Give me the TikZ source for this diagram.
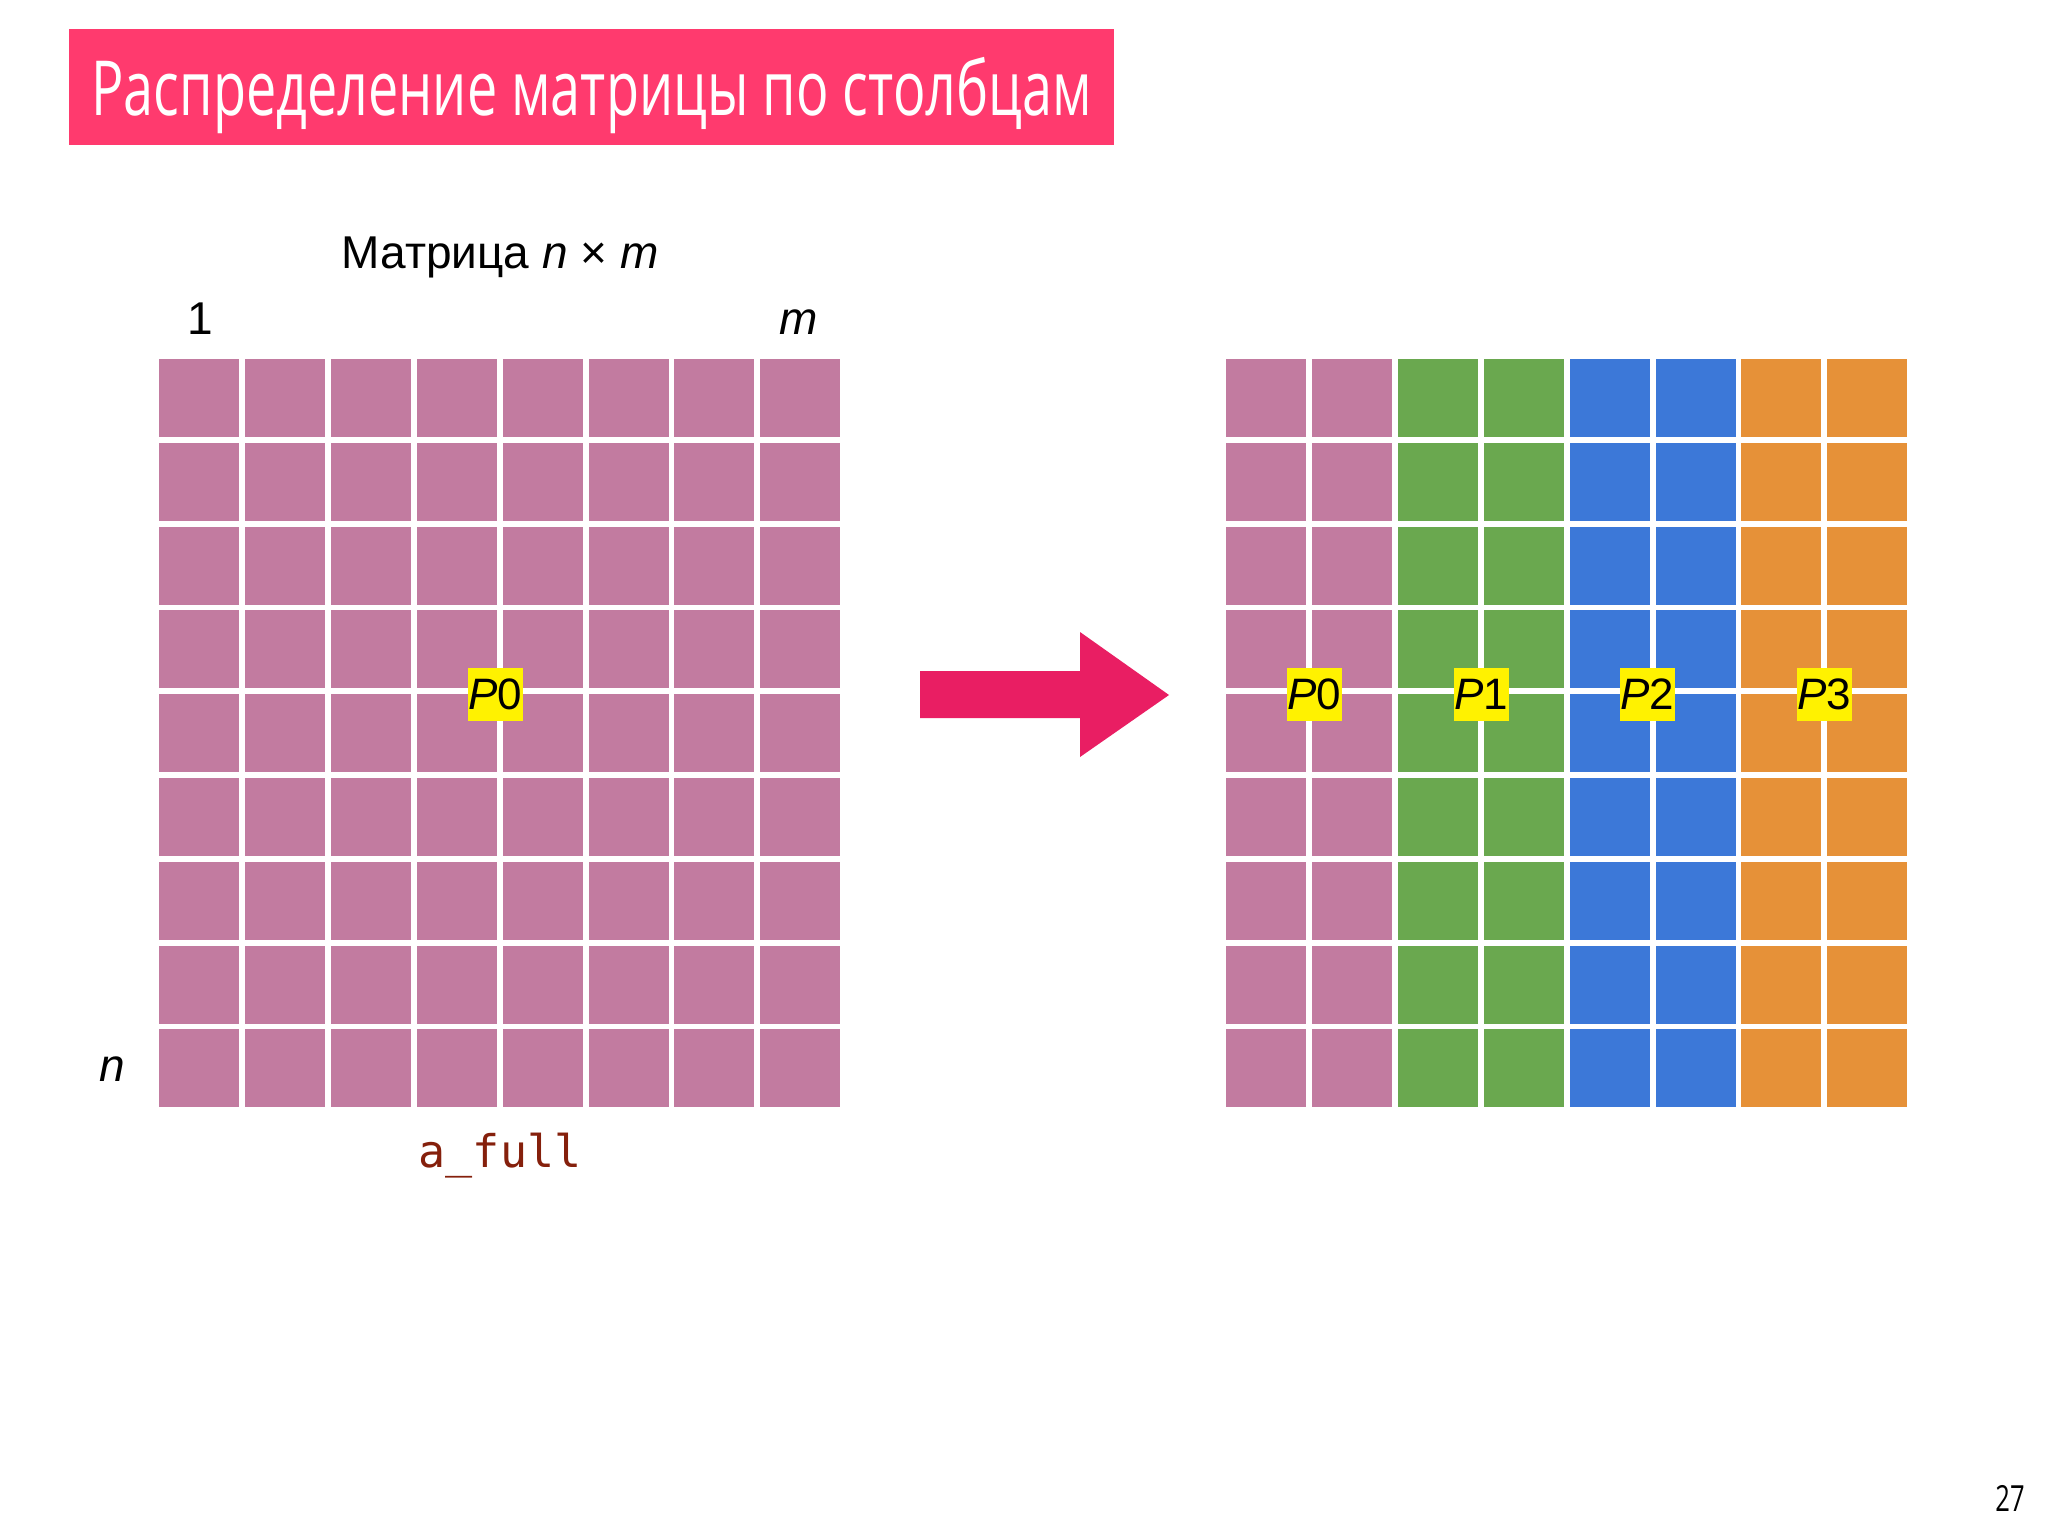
\documentclass[tikz,border=0pt]{standalone}
\usepackage{fontspec}
\setmainfont{Liberation Sans}
\setmonofont{DejaVu Sans Mono}
\newfontfamily\titlefont[FakeStretch=0.71]{Open Sans}

\definecolor{procA}{HTML}{C27BA0}
\definecolor{procB}{HTML}{6AA84F}
\definecolor{procC}{HTML}{3C78D8}
\definecolor{procD}{HTML}{E69138}
\definecolor{slidepink}{HTML}{FF3A6E}
\definecolor{arrowpink}{HTML}{E91E63}
\definecolor{codered}{HTML}{85200C}

\tikzset{
	plabel/.style={fill=yellow, inner sep=0pt, minimum width=27.5pt, minimum height=26.5pt,
		font=\fontsize{22}{22}\selectfont},
	axislabel/.style={anchor=base, inner sep=0pt, font=\fontsize{23}{27}\selectfont},
}

\begin{document}
\begin{tikzpicture}[x=0.5pt, y=-0.5pt]
	\useasboundingbox[fill=white] (0,0) rectangle (2048,1536);

	\fill[slidepink] (69,29) rectangle (1114,145);
	\node[anchor=base west, inner sep=0pt, text=white, font=\titlefont\fontsize{38}{40}\selectfont] (title) at (91,116) {Распределение матрицы по столбцам};

	\node[axislabel] (caption) at (500,268) {Матрица \textit{n} × \textit{m}};
	\node[axislabel] (first) at (200,334) {1};
	\node[axislabel] (last) at (799,334) {\textit{m}};
	\node[axislabel] (rows) at (112,1081) {\textit{n}};

	\foreach \c in {0,...,7}
	{
		\foreach \r in {0,...,8}
		{
			\fill[procA] ({159+85.9*\c},{359+83.8*\r}) rectangle ++(80,78);
		};
	};
	\foreach \c / \col in {0/procA, 1/procA, 2/procB, 3/procB, 4/procC, 5/procC, 6/procD, 7/procD}
	{
		\foreach \r in {0,...,8}
		{
			\fill[\col] ({1226+85.9*\c},{359+83.8*\r}) rectangle ++(80,78);
		};
	};

	\node[plabel] (full0) at (495,694) {\textit{P}0};
	\node[plabel] (part0) at (1314,694) {\textit{P}0};
	\node[plabel] (part1) at (1481,694) {\textit{P}1};
	\node[plabel] (part2) at (1647,694) {\textit{P}2};
	\node[plabel] (part3) at (1824,694) {\textit{P}3};

	\node[anchor=base, inner sep=0pt, text=codered, font=\ttfamily\fontsize{22.5}{24}\selectfont] (name) at (500,1167) {a\_full};

	\fill[arrowpink] (920,671) -- (1080,671) -- (1080,632) -- (1169,695) -- (1080,757) -- (1080,718) -- (920,718) -- cycle;

	\node[anchor=base, inner sep=0pt, font=\titlefont\fontsize{18}{20}\selectfont] (page) at (2010,1511) {27};
\end{tikzpicture}
\end{document}
